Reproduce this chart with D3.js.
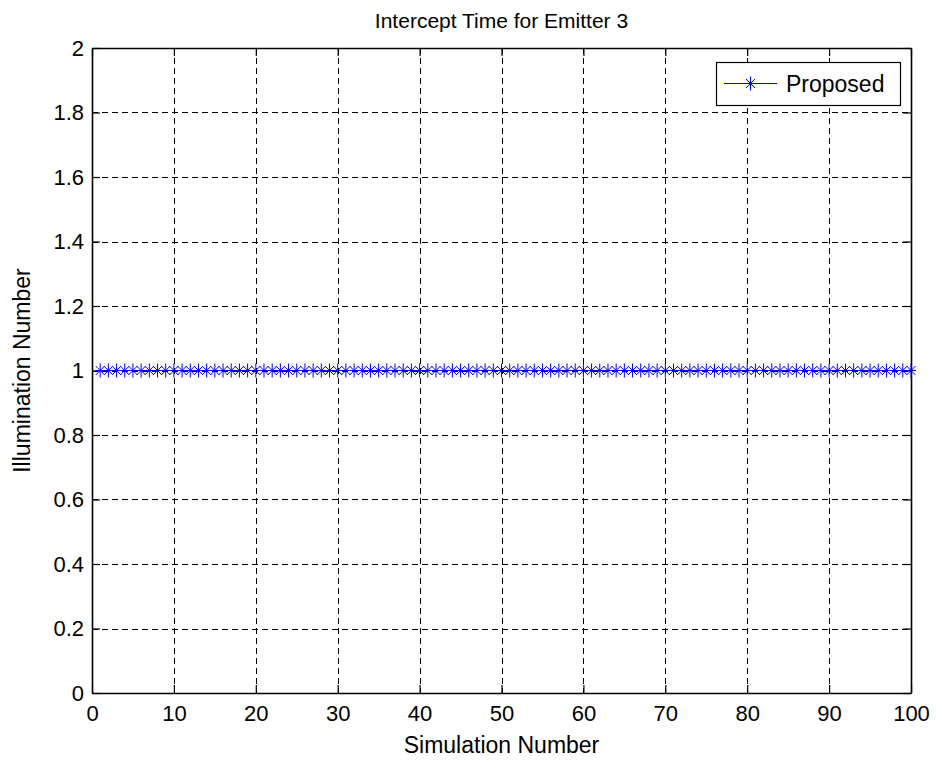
<!DOCTYPE html>
<html>
<head>
<meta charset="utf-8">
<script src="https://cdn.jsdelivr.net/npm/d3@7"></script>
<style>
  html, body { margin: 0; padding: 0; background: #fff; }
  svg { display: block; }
  text { font-family: "Liberation Sans", Arial, sans-serif; fill: #000; }
</style>
</head>
<body>
<svg id="chart" width="936" height="760"></svg>
<script>
// Simulation runs 1..100 and the illumination count found in each
const simulationNumbers = d3.range(1, 101);
const illuminationValues = [
  1,1,1,1,1,1,1,1,1,1, 1,1,1,1,1,1,1,1,1,1,
  1,1,1,1,1,1,1,1,1,1, 1,1,1,1,1,1,1,1,1,1,
  1,1,1,1,1,1,1,1,1,1, 1,1,1,1,1,1,1,1,1,1,
  1,1,1,1,1,1,1,1,1,1, 1,1,1,1,1,1,1,1,1,1,
  1,1,1,1,1,1,1,1,1,1, 1,1,1,1,1,1,1,1,1,1
];
const xTicks = [0, 10, 20, 30, 40, 50, 60, 70, 80, 90, 100];
const yTicks = [0, 0.2, 0.4, 0.6, 0.8, 1, 1.2, 1.4, 1.6, 1.8, 2];
const seriesName = "Proposed";
const titleText = "Intercept Time for Emitter 3";
const xLabelText = "Simulation Number";
const yLabelText = "Illumination Number";

const svg = d3.select("#chart");
const plot = { left: 92, right: 911, top: 48, bottom: 693 };

const x = d3.scaleLinear().domain([0, 100]).range([plot.left, plot.right]);
const y = d3.scaleLinear().domain([0, 2]).range([plot.bottom, plot.top]);

const tickFont = 22;
const labelFont = 23;
const titleFont = 21;

// dashed grid
const grid = svg.append("g").attr("stroke", "#000").attr("stroke-width", 1)
  .attr("stroke-dasharray", "6,4").attr("shape-rendering", "crispEdges");
grid.selectAll(".gx").data(xTicks.slice(1, -1)).join("line")
  .attr("x1", d => Math.round(x(d)) + 0.5).attr("x2", d => Math.round(x(d)) + 0.5)
  .attr("y1", plot.top).attr("y2", plot.bottom);
grid.selectAll(".gy").data(yTicks.slice(1, -1)).join("line")
  .attr("y1", d => Math.round(y(d)) + 0.5).attr("y2", d => Math.round(y(d)) + 0.5)
  .attr("x1", plot.left).attr("x2", plot.right);

// axes: bottom/left carry labels, top/right close the box; ticks point inward
const axB = d3.axisBottom(x).tickValues(xTicks).tickSizeInner(-8).tickSizeOuter(0).tickPadding(12).tickFormat(d3.format("d"));
const axT = d3.axisTop(x).tickValues(xTicks).tickSizeInner(-8).tickSizeOuter(0).tickFormat("");
const axL = d3.axisLeft(y).tickValues(yTicks).tickSizeInner(-8).tickSizeOuter(0).tickPadding(8).tickFormat(d => d3.format("~g")(d));
const axR = d3.axisRight(y).tickValues(yTicks).tickSizeInner(-8).tickSizeOuter(0).tickFormat("");

function styleAxis(g) {
  g.select(".domain").attr("stroke", "#000").attr("stroke-width", 1.6);
  g.selectAll(".tick line").attr("stroke", "#000").attr("stroke-width", 1.2);
  g.selectAll(".tick text").attr("font-size", tickFont)
    .attr("font-family", "Liberation Sans, Arial, sans-serif").attr("fill", "#000");
}
svg.append("g").attr("transform", `translate(0,${plot.bottom})`).call(axB).call(styleAxis);
svg.append("g").attr("transform", `translate(0,${plot.top})`).call(axT).call(styleAxis);
svg.append("g").attr("transform", `translate(${plot.left},0)`).call(axL).call(styleAxis);
svg.append("g").attr("transform", `translate(${plot.right},0)`).call(axR).call(styleAxis);

// star marker: plus + cross
function starPath(cx, cy) {
  const v = 7, h = 5, d = 4.5;
  return `M${cx},${cy - v}L${cx},${cy + v}` +
         `M${cx - h},${cy}L${cx + h},${cy}` +
         `M${cx - d},${cy - d}L${cx + d},${cy + d}` +
         `M${cx - d},${cy + d}L${cx + d},${cy - d}`;
}

const pts = simulationNumbers.map((s, i) => ({ s, v: illuminationValues[i] }));
const line = d3.line().x(d => x(d.s)).y(d => y(d.v));

svg.append("path").datum(pts).attr("d", line)
  .attr("fill", "none").attr("stroke", "#0000ff").attr("stroke-width", 1);
svg.append("g").selectAll("path").data(pts).join("path")
  .attr("d", d => starPath(x(d.s), y(d.v)))
  .attr("fill", "none").attr("stroke", "#0000ff").attr("stroke-width", 1);

// title and axis labels
svg.append("text").attr("x", (plot.left + plot.right) / 2).attr("y", 28)
  .attr("text-anchor", "middle").attr("font-size", titleFont).text(titleText);
svg.append("text").attr("x", (plot.left + plot.right) / 2).attr("y", 753)
  .attr("text-anchor", "middle").attr("font-size", labelFont).text(xLabelText);
svg.append("text").attr("transform", `translate(30,${(plot.top + plot.bottom) / 2}) rotate(-90)`)
  .attr("text-anchor", "middle").attr("font-size", labelFont).text(yLabelText);

// legend
const lg = svg.append("g");
const box = { x: 716, y: 62, w: 184, h: 43 };
lg.append("rect").attr("x", box.x + 0.5).attr("y", box.y + 0.5).attr("width", box.w).attr("height", box.h)
  .attr("fill", "#fff").attr("stroke", "#000").attr("stroke-width", 1.2);
const ly = box.y + box.h / 2;
lg.append("line").attr("x1", box.x + 8).attr("x2", box.x + 61).attr("y1", ly).attr("y2", ly)
  .attr("stroke", "#0000ff").attr("stroke-width", 1);
lg.append("path").attr("d", starPath(box.x + 34.5, ly)).attr("fill", "none").attr("stroke", "#0000ff");
lg.append("text").attr("x", box.x + 70).attr("y", ly + 8).attr("font-size", 23).text(seriesName);
</script>
</body>
</html>
